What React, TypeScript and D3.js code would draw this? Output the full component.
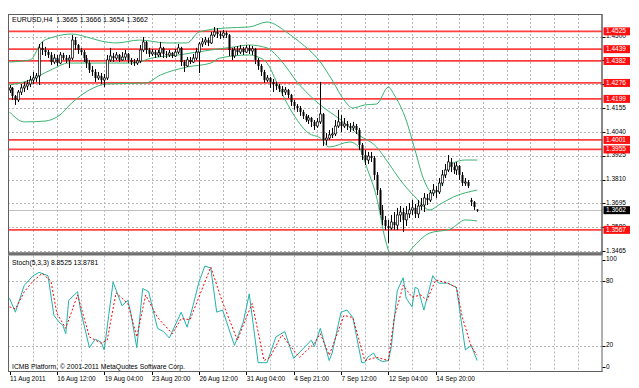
import React from 'react';
import * as d3 from 'd3';

// EURUSD H4 bars, prices x 10 000 (one entry per bar)
const open = [
  14242, 14252, 14213, 14194, 14232, 14252, 14261, 14271, 14290, 14300,
  14310, 14445, 14435, 14425, 14411, 14377, 14396, 14372, 14411, 14396,
  14387, 14396, 14483, 14459, 14435, 14425, 14396, 14372, 14339, 14329,
  14300, 14310, 14290, 14300, 14387, 14406, 14396, 14411, 14387, 14401,
  14416, 14387, 14377, 14372, 14382, 14435, 14474, 14435, 14416, 14425,
  14411, 14421, 14445, 14416, 14411, 14421, 14406, 14425, 14445, 14377,
  14358, 14387, 14377, 14396, 14425, 14464, 14474, 14483, 14469, 14507,
  14522, 14512, 14503, 14517, 14507, 14435, 14406, 14435, 14425, 14440,
  14425, 14445, 14430, 14440, 14387, 14358, 14329, 14290, 14300, 14281,
  14271, 14261, 14247, 14232, 14242, 14218, 14184, 14165, 14155, 14136,
  14117, 14097, 14107, 14088, 14068, 14088, 14126, 14001, 14010, 14025,
  14030, 14068, 14088, 14068, 14078, 14068, 14059, 14068, 14049, 13977,
  13928, 13904, 13923, 13914, 13832, 13759, 13663, 13615, 13586, 13576,
  13605, 13590, 13639, 13653, 13615, 13644, 13663, 13673, 13644, 13682,
  13687, 13721, 13711, 13745, 13759, 13750, 13793, 13832, 13856, 13895,
  13870, 13856, 13875, 13832, 13793, 13798, 13711, 13701, 13665,
];
const high = [
  14266, 14256, 14218, 14242, 14271, 14281, 14290, 14310, 14329, 14324,
  14464, 14474, 14450, 14435, 14425, 14416, 14411, 14425, 14421, 14411,
  14411, 14507, 14498, 14464, 14445, 14435, 14411, 14387, 14358, 14343,
  14329, 14324, 14319, 14411, 14445, 14421, 14425, 14416, 14425, 14435,
  14421, 14396, 14392, 14396, 14459, 14498, 14478, 14445, 14440, 14435,
  14435, 14474, 14450, 14430, 14435, 14425, 14440, 14464, 14450, 14387,
  14401, 14401, 14416, 14445, 14474, 14493, 14498, 14493, 14522, 14546,
  14541, 14527, 14532, 14527, 14512, 14445, 14450, 14454, 14459, 14450,
  14459, 14459, 14454, 14445, 14396, 14367, 14339, 14314, 14305, 14295,
  14281, 14271, 14261, 14256, 14247, 14223, 14194, 14174, 14165, 14146,
  14126, 14121, 14112, 14097, 14107, 14281, 14131, 14034, 14049, 14059,
  14097, 14146, 14121, 14107, 14092, 14083, 14088, 14078, 14059, 13986,
  13952, 13943, 13943, 13923, 13846, 13769, 13687, 13634, 13615, 13639,
  13653, 13673, 13682, 13673, 13682, 13697, 13711, 13692, 13711, 13721,
  13745, 13740, 13759, 13788, 13779, 13817, 13856, 13885, 13928, 13914,
  13890, 13895, 13880, 13846, 13817, 13808, 13721, 13706, 13666,
];
const low = [
  14228, 14194, 14170, 14184, 14218, 14232, 14242, 14256, 14271, 14281,
  14266, 14411, 14406, 14396, 14363, 14367, 14358, 14367, 14387, 14372,
  14348, 14387, 14435, 14416, 14411, 14377, 14348, 14324, 14310, 14281,
  14290, 14271, 14256, 14290, 14377, 14377, 14387, 14377, 14382, 14387,
  14372, 14363, 14358, 14363, 14372, 14425, 14416, 14401, 14406, 14396,
  14401, 14401, 14396, 14396, 14401, 14396, 14401, 14416, 14358, 14329,
  14353, 14367, 14372, 14387, 14324, 14450, 14459, 14454, 14464, 14498,
  14493, 14488, 14493, 14493, 14406, 14387, 14396, 14411, 14416, 14411,
  14421, 14416, 14411, 14367, 14339, 14310, 14276, 14281, 14252, 14232,
  14242, 14232, 14213, 14218, 14203, 14165, 14146, 14136, 14117, 14102,
  14088, 14078, 14063, 14049, 14059, 14078, 13972, 13977, 14001, 14010,
  14020, 14059, 14039, 14059, 14049, 14039, 14044, 14030, 13952, 13904,
  13880, 13885, 13895, 13808, 13735, 13639, 13590, 13566, 13504, 13566,
  13566, 13566, 13605, 13557, 13586, 13624, 13639, 13624, 13624, 13663,
  13653, 13687, 13701, 13730, 13721, 13740, 13779, 13817, 13846, 13846,
  13837, 13832, 13808, 13779, 13779, 13769, 13682, 13663, 13654,
];
const close = [
  14252, 14213, 14194, 14232, 14252, 14261, 14271, 14290, 14300, 14310,
  14445, 14435, 14425, 14411, 14377, 14396, 14372, 14411, 14396, 14387,
  14396, 14483, 14459, 14435, 14425, 14396, 14372, 14339, 14329, 14300,
  14310, 14290, 14300, 14387, 14406, 14396, 14411, 14387, 14401, 14416,
  14387, 14377, 14372, 14382, 14435, 14474, 14435, 14416, 14425, 14411,
  14421, 14445, 14416, 14411, 14421, 14406, 14425, 14445, 14377, 14358,
  14387, 14377, 14396, 14425, 14464, 14474, 14483, 14469, 14507, 14522,
  14512, 14503, 14517, 14507, 14435, 14406, 14435, 14425, 14440, 14425,
  14445, 14430, 14440, 14387, 14358, 14329, 14290, 14300, 14281, 14271,
  14261, 14247, 14232, 14242, 14218, 14184, 14165, 14155, 14136, 14117,
  14097, 14107, 14088, 14068, 14088, 14126, 14001, 14010, 14025, 14030,
  14068, 14088, 14068, 14078, 14068, 14059, 14068, 14049, 13977, 13928,
  13904, 13923, 13914, 13832, 13759, 13663, 13615, 13586, 13576, 13605,
  13590, 13639, 13653, 13615, 13644, 13663, 13673, 13644, 13682, 13687,
  13721, 13711, 13745, 13759, 13750, 13793, 13832, 13856, 13895, 13870,
  13856, 13875, 13832, 13793, 13798, 13779, 13701, 13677, 13662,
];

const timeLabels = [
  '11 Aug 2011', '16 Aug 12:00', '19 Aug 04:00', '23 Aug 20:00', '26 Aug 12:00',
  '31 Aug 04:00', '4 Sep 21:00', '7 Sep 12:00', '12 Sep 04:00', '14 Sep 20:00',
];
const priceTicks = [1.3465, 1.358, 1.3695, 1.381, 1.3925, 1.404, 1.4155, 1.427, 1.4385, 1.45];
const levels = [1.4525, 1.4439, 1.4382, 1.4276, 1.4199, 1.4001, 1.3955, 1.3567];
const lastPrice = 1.3662;

const upperBars = [0, 7, 11, 15, 21, 26, 31, 36, 44, 53, 60, 64, 73, 81, 87, 94, 98, 105, 109, 113, 116, 120, 124, 128, 130, 134, 137, 140, 143, 145, 147, 150, 154, 158];
const upperBand = [14377, 14387, 14474, 14498, 14512, 14498, 14478, 14469, 14483, 14469, 14469, 14522, 14541, 14546, 14570, 14517, 14474, 14377, 14290, 14194, 14155, 14170, 14174, 14256, 14218, 14097, 13952, 13808, 13745, 13759, 13832, 13890, 13904, 13904];
const middleBars = [0, 7, 14, 20, 31, 42, 48, 57, 68, 76, 81, 87, 91, 98, 102, 105, 112, 118, 124, 128, 132, 137, 142, 145, 150, 158];
const middleBand = [14266, 14290, 14339, 14372, 14372, 14372, 14396, 14411, 14435, 14450, 14459, 14445, 14396, 14266, 14208, 14170, 14097, 14025, 13967, 13890, 13808, 13726, 13663, 13687, 13726, 13759];
const lowerBars = [0, 5, 12, 17, 21, 27, 33, 46, 51, 60, 68, 71, 81, 84, 87, 91, 95, 101, 105, 108, 115, 118, 121, 124, 127, 130, 134, 137, 142, 149, 154, 158];
const lowerBand = [14136, 14088, 14092, 14121, 14179, 14242, 14271, 14276, 14314, 14353, 14372, 14396, 14411, 14401, 14372, 14256, 14146, 14034, 14010, 13967, 13991, 13967, 13856, 13726, 13518, 13412, 13446, 13494, 13552, 13571, 13615, 13610];

// Stochastic(5,3,3)
const stochTicks = [0, 20, 80, 100];
const kBars = [0, 2, 5, 8, 10, 13, 15, 17, 18, 19, 20, 23, 24, 27, 29, 31, 32, 35, 38, 40, 41, 43, 45, 47, 50, 52, 54, 58, 60, 62, 64, 66, 68, 70, 72, 76, 79, 81, 84, 87, 90, 93, 96, 102, 103, 105, 108, 109, 112, 114, 116, 119, 120, 121, 123, 124, 126, 128, 129, 131, 133, 134, 136, 137, 138, 140, 143, 144, 145, 148, 151, 154, 156, 158];
const kValues = [64, 51, 76, 85, 88, 85, 48, 41, 39, 31, 62, 70, 53, 18, 26, 23, 16, 79, 57, 62, 50, 18, 73, 70, 36, 33, 27, 51, 37, 57, 79, 94, 92, 51, 53, 20, 42, 68, 4, 4, 28, 33, 8, 25, 19, 36, 6, 13, 51, 53, 46, 4, 4, 9, 13, 8, 5, 6, 19, 71, 83, 64, 56, 74, 73, 53, 85, 81, 78, 78, 74, 16, 20, 6];
const dBars = [0, 2, 5, 8, 11, 14, 16, 19, 23, 27, 31, 33, 36, 40, 43, 46, 50, 55, 58, 61, 64, 68, 72, 77, 80, 82, 86, 88, 92, 95, 98, 103, 105, 108, 113, 116, 120, 124, 128, 130, 133, 136, 139, 141, 144, 148, 151, 153, 156, 158];
const dValues = [56, 54, 70, 80, 87, 80, 50, 36, 67, 28, 22, 25, 69, 59, 28, 67, 46, 31, 45, 44, 65, 93, 60, 25, 46, 59, 6, 9, 30, 19, 9, 22, 31, 11, 48, 46, 6, 9, 6, 46, 76, 65, 67, 62, 81, 78, 74, 46, 19, 11];

const FONT = "'Liberation Sans', Arial, sans-serif";
const L = 8;
const R = 602.5;
const MAIN_TOP = 14;
const MAIN_BOTTOM = 252.5;
const SUB_TOP = 255.5;
const SUB_BOTTOM = 372;

export default function App() {
  const x = d3.scaleLinear().domain([0, 200]).range([9.5, 601.5]);
  const y = d3.scaleLinear().domain([1.3465, 1.46]).range([251, 15.8]);
  const ys = d3.scaleLinear().domain([0, 100]).range([367, 259.5]);

  const bandLine = (bars: number[]) =>
    d3.line<number>()
      .x((_, j) => x(bars[j]))
      .y(v => y(v / 10000))
      .curve(d3.curveMonotoneX);

  const stochLine = (bars: number[]) =>
    d3.line<number>()
      .x((_, j) => x(bars[j]))
      .y(v => ys(v));

  const vGrid = d3.range(8, 200, 8);
  const crisp = (v: number) => Math.round(v) + 0.5;

  return (
    <svg width={639} height={388} style={{ position: 'absolute', left: 0, top: 0, background: '#fff' }}
      fontFamily={FONT}>
      <defs>
        <clipPath id="mainClip"><rect x={L} y={MAIN_TOP} width={R - L} height={MAIN_BOTTOM - MAIN_TOP} /></clipPath>
        <clipPath id="subClip"><rect x={L} y={SUB_TOP} width={R - L} height={SUB_BOTTOM - SUB_TOP} /></clipPath>
      </defs>

      {/* grid, main window */}
      <g stroke="#b8b8b8" strokeWidth={1} strokeDasharray="2,2">
        {priceTicks.map(p => (
          <line key={'h' + p} x1={L} x2={R} y1={crisp(y(p))} y2={crisp(y(p))} />
        ))}
        {vGrid.map(i => (
          <line key={'v' + i} x1={crisp(x(i))} x2={crisp(x(i))} y1={MAIN_TOP} y2={MAIN_BOTTOM} />
        ))}
        {[20, 80].map(v => (
          <line key={'s' + v} x1={L} x2={R} y1={crisp(ys(v))} y2={crisp(ys(v))} />
        ))}
        {vGrid.map(i => (
          <line key={'sv' + i} x1={crisp(x(i))} x2={crisp(x(i))} y1={SUB_TOP} y2={SUB_BOTTOM} />
        ))}
      </g>

      <g clipPath="url(#mainClip)">
        {/* current price */}
        <line x1={L} x2={R} y1={crisp(y(lastPrice))} y2={crisp(y(lastPrice))} stroke="#c0c0c0" />
        {/* horizontal levels */}
        {levels.map(p => (
          <line key={'l' + p} x1={L} x2={R} y1={y(p)} y2={y(p)} stroke="#ff2020" strokeOpacity={0.85} strokeWidth={1.8} />
        ))}
        {/* bands */}
        <g fill="none" stroke="#3cb371" strokeWidth={1}>
          <path d={bandLine(upperBars)(upperBand) || ''} />
          <path d={bandLine(middleBars)(middleBand) || ''} />
          <path d={bandLine(lowerBars)(lowerBand) || ''} />
        </g>
        {/* candles */}
        {close.map((c, i) => {
          const cx = Math.round(x(i));
          const o = open[i] / 10000;
          const cl = c / 10000;
          const top = y(Math.max(o, cl));
          const bot = y(Math.min(o, cl));
          const bull = cl >= o;
          return (
            <g key={'c' + i}>
              <line x1={cx + 0.5} x2={cx + 0.5} y1={y(high[i] / 10000)} y2={y(low[i] / 10000)} stroke="#000" strokeWidth={1} />
              <rect x={cx - 0.5} y={top} width={2} height={Math.max(1, bot - top)}
                fill={bull ? '#fff' : '#000'} stroke="#000" strokeWidth={bull ? 0.7 : 0} />
            </g>
          );
        })}
      </g>

      {/* stochastic */}
      <g clipPath="url(#subClip)" fill="none">
        <path d={stochLine(kBars)(kValues) || ''} stroke="#20b2aa" strokeWidth={1} />
        <path d={stochLine(dBars)(dValues) || ''} stroke="#ff0000" strokeWidth={1} strokeDasharray="2,2" />
      </g>

      {/* frames */}
      <rect x={L + 0.5} y={MAIN_TOP + 0.5} width={R - L - 1} height={MAIN_BOTTOM - MAIN_TOP} fill="none" stroke="#606060" />
      <rect x={L} y={MAIN_BOTTOM} width={R - L} height={SUB_TOP - MAIN_BOTTOM} fill="#707070" />
      <line x1={L + 0.5} x2={L + 0.5} y1={SUB_TOP} y2={SUB_BOTTOM} stroke="#606060" />
      <line x1={R - 0.5} x2={R - 0.5} y1={MAIN_TOP} y2={SUB_BOTTOM} stroke="#606060" />
      <line x1={L} x2={R} y1={SUB_BOTTOM - 0.5} y2={SUB_BOTTOM - 0.5} stroke="#606060" />

      {/* right price axis */}
      <g fontSize={6.5} fill="#000">
        {priceTicks.map(p => (
          <g key={'t' + p}>
            <line x1={R} x2={R + 3} y1={crisp(y(p))} y2={crisp(y(p))} stroke="#000" />
            <text x={606} y={y(p)} dominantBaseline="middle">{p.toFixed(4)}</text>
          </g>
        ))}
        {stochTicks.map(v => (
          <g key={'st' + v}>
            <line x1={R} x2={R + 3} y1={crisp(ys(v))} y2={crisp(ys(v))} stroke="#000" />
            <text x={606} y={ys(v)} dominantBaseline="middle">{v}</text>
          </g>
        ))}
      </g>
      {levels.map(p => (
        <g key={'lb' + p}>
          <rect x={603.5} y={y(p) - 4} width={26.5} height={8} fill="#ff1010" />
          <text x={606} y={y(p) + 0.3} dominantBaseline="middle" fontSize={6.5} fill="#fff">{p.toFixed(4)}</text>
        </g>
      ))}
      <rect x={603.5} y={y(lastPrice) - 4} width={26.5} height={8} fill="#000" />
      <text x={606} y={y(lastPrice) + 0.3} dominantBaseline="middle" fontSize={6.5} fill="#fff">{lastPrice.toFixed(4)}</text>

      {/* time axis */}
      <g fontSize={6.5} fill="#000">
        {timeLabels.map((t, k) => (
          <g key={t}>
            <line x1={crisp(x(k * 16))} x2={crisp(x(k * 16))} y1={SUB_BOTTOM} y2={SUB_BOTTOM + 3} stroke="#000" />
            <text x={x(k * 16) + 0.5} y={379} dominantBaseline="middle">{t}</text>
          </g>
        ))}
      </g>

      {/* captions */}
      <text x={12} y={20} fontSize={7} dominantBaseline="middle" style={{ whiteSpace: 'pre' }}>
        {'EURUSD,H4  1.3665 1.3666 1.3654 1.3662'}
      </text>
      <text x={12} y={263} fontSize={6.8} dominantBaseline="middle">Stoch(5,3,3) 8.8525 13.8781</text>
      <text x={12} y={367} fontSize={6.8} dominantBaseline="middle">ICMB Platform, © 2001-2011 MetaQuotes Software Corp.</text>
    </svg>
  );
}
